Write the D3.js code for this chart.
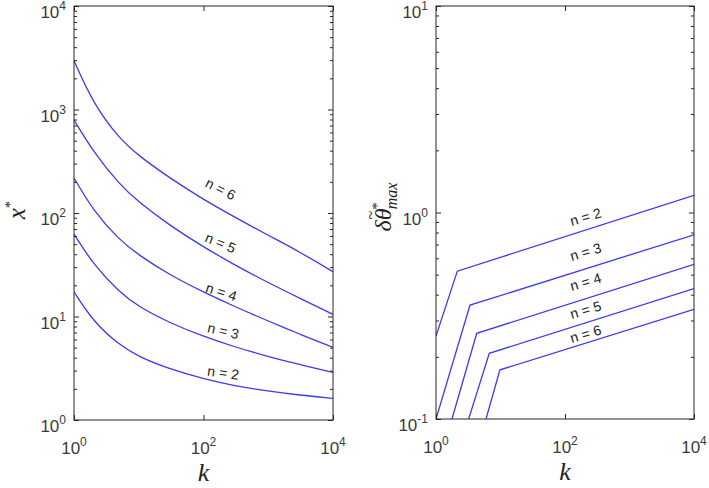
<!DOCTYPE html>
<html lang="en">
<head>
    <meta charset="UTF-8">
    <script src="https://d3js.org/d3.v7.min.js"></script>
    <title>x* and delta theta max versus k</title>
    <style>
        body { margin: 0; background: #fff; }
    </style>
</head>
<body>
<script>
    // ---- data ----
    // left panel: x* against k, one array per n
    const kLeft = [1, 2, 5, 10, 30, 100, 300, 1000, 3000, 10000];
    const xStarN2 = [17.3, 8.87, 5.31, 4.08, 3.10, 2.50, 2.14, 1.90, 1.74, 1.62];
    const xStarN3 = [62.7, 31.6, 17.2, 12.4, 8.67, 6.41, 5.09, 4.10, 3.44, 2.88];
    const xStarN4 = [218, 104.5, 55.0, 39.2, 25.2, 17.2, 12.5, 9.04, 6.79, 5.02];
    const xStarN5 = [792, 388, 190, 127, 75.9, 46.9, 31.6, 21.2, 15.1, 10.5];
    const xStarN6 = [2958, 1130, 524, 357, 218, 135, 91.6, 60.8, 42.4, 27.1];

    // right panel: delta theta max against k (start, corner, end)
    const kRightN2 = [1, 2.14, 10000];
    const thetaN2 = [0.252, 0.52, 1.21];
    const kRightN3 = [1, 3.37, 10000];
    const thetaN3 = [0.1, 0.356, 0.78];
    const kRightN4 = [1.77, 4.28, 10000];
    const thetaN4 = [0.1, 0.26, 0.561];
    const kRightN5 = [3.21, 6.7, 10000];
    const thetaN5 = [0.1, 0.208, 0.428];
    const kRightN6 = [5.96, 9.8, 10000];
    const thetaN6 = [0.1, 0.173, 0.34];

    const curveNames = ["n = 2", "n = 3", "n = 4", "n = 5", "n = 6"];
    const xTicks = [1, 100, 10000];
    const leftYTicks = [1, 10, 100, 1000, 10000];
    const rightYTicks = [0.1, 1, 10];

    const W = 709, H = 488;
    const axisColor = "#262626";
    const lineColor = "#3a3af2";
    const serif = "'Liberation Serif', 'DejaVu Serif', serif";

    const svg = d3.select("body").append("svg")
        .attr("width", W)
        .attr("height", H)
        .style("font-family", "'Liberation Sans', Arial, sans-serif");

    const minorTicks = (lo, hi) => {
        const out = [];
        for (let d = lo; d < hi; d *= 10) {
            for (let m = 2; m <= 9; m++) out.push(d * m);
        }
        return out;
    };

    const supLabel = (sel, base, exp) => {
        sel.append("tspan").text(base);
        sel.append("tspan").attr("dy", -8).style("font-size", "12px").text(exp);
    };

    const drawPanel = (cfg) => {
        const g = svg.append("g")
            .attr("transform", "translate(" + cfg.left + "," + cfg.top + ")");
        const w = cfg.width, h = cfg.height;

        const x = d3.scaleLog().domain([1, 10000]).range([0, w]);
        const y = d3.scaleLog().domain(cfg.yDomain).range([h, 0]);

        // clip
        g.append("clipPath").attr("id", cfg.id + "-clip")
            .append("rect").attr("width", w).attr("height", h);

        // lines
        const line = d3.line()
            .x(d => x(d[0]))
            .y(d => y(d[1]))
            .curve(cfg.smooth ? d3.curveBasis : d3.curveLinear);

        g.append("g").attr("clip-path", "url(#" + cfg.id + "-clip)")
            .selectAll("path")
            .data(cfg.series)
            .enter().append("path")
            .attr("fill", "none")
            .attr("stroke", lineColor)
            .attr("stroke-width", 1.3)
            .attr("d", s => line(s.k.map((k, i) => [k, s.v[i]])));

        // ticks, pointing inside, on all four sides
        const ticks = (axis, tx, ty, values, size) => {
            const a = g.append("g")
                .attr("transform", "translate(" + tx + "," + ty + ")")
                .call(axis.tickValues(values).tickSize(-size).tickFormat(""));
            a.select(".domain").remove();
            a.selectAll("line").attr("stroke", axisColor);
        };
        ticks(d3.axisBottom(x), 0, h, xTicks, 5);
        ticks(d3.axisTop(x), 0, 0, xTicks, 5);
        const yMinor = minorTicks(cfg.yDomain[0], cfg.yDomain[1]);
        ticks(d3.axisLeft(y), 0, 0, cfg.yTicks, 5);
        ticks(d3.axisLeft(y), 0, 0, yMinor, 3);
        ticks(d3.axisRight(y), w, 0, cfg.yTicks, 5);
        ticks(d3.axisRight(y), w, 0, yMinor, 3);

        // box
        g.append("rect")
            .attr("width", w).attr("height", h)
            .attr("fill", "none")
            .attr("stroke", axisColor)
            .attr("stroke-width", 1);

        // tick labels
        xTicks.forEach(v => {
            g.append("text")
                .attr("x", x(v))
                .attr("y", h + 34)
                .attr("text-anchor", "middle")
                .attr("fill", "#3a3a3a")
                .style("font-size", "17px")
                .call(supLabel, "10", Math.round(Math.log10(v)));
        });
        cfg.yTicks.forEach(v => {
            g.append("text")
                .attr("x", -8)
                .attr("y", y(v) + 12)
                .attr("text-anchor", "end")
                .attr("fill", "#3a3a3a")
                .style("font-size", "17px")
                .call(supLabel, "10", Math.round(Math.log10(v)));
        });

        // x label
        g.append("text")
            .attr("x", w / 2)
            .attr("y", h + 61)
            .attr("text-anchor", "middle")
            .style("font-family", serif)
            .style("font-style", "italic")
            .style("font-size", "26px")
            .attr("fill", "#222")
            .text("k");

        // curve labels
        cfg.labels.forEach((lb, i) => {
            g.append("text")
                .attr("transform", "translate(" + (lb.x - cfg.left) + "," + (lb.y - cfg.top) + ") rotate(" + lb.r + ")")
                .attr("text-anchor", "middle")
                .attr("dominant-baseline", "middle")
                .attr("fill", "#222")
                .style("font-size", "14px")
                .text(curveNames[i]);
        });
        return g;
    };

    // left panel
    drawPanel({
        id: "left", left: 74, top: 6, width: 259, height: 414,
        yDomain: [1, 10000], yTicks: leftYTicks, smooth: true,
        series: [
            {k: kLeft, v: xStarN2},
            {k: kLeft, v: xStarN3},
            {k: kLeft, v: xStarN4},
            {k: kLeft, v: xStarN5},
            {k: kLeft, v: xStarN6}
        ],
        labels: [
            {x: 223, y: 374, r: 8},
            {x: 223, y: 332, r: 13},
            {x: 221, y: 293, r: 18},
            {x: 220, y: 244, r: 23},
            {x: 220, y: 190, r: 27}
        ]
    });

    // right panel
    drawPanel({
        id: "right", left: 436, top: 6, width: 258, height: 413,
        yDomain: [0.1, 10], yTicks: rightYTicks, smooth: false,
        series: [
            {k: kRightN2, v: thetaN2},
            {k: kRightN3, v: thetaN3},
            {k: kRightN4, v: thetaN4},
            {k: kRightN5, v: thetaN5},
            {k: kRightN6, v: thetaN6}
        ],
        labels: [
            {x: 586, y: 218, r: -16},
            {x: 586, y: 253, r: -16},
            {x: 586, y: 283, r: -16},
            {x: 586, y: 311, r: -16},
            {x: 586, y: 335, r: -16}
        ]
    });

    // y labels
    const yl = svg.append("text")
        .attr("transform", "translate(25,210) rotate(-90)")
        .attr("text-anchor", "middle")
        .style("font-family", serif)
        .style("font-style", "italic")
        .style("font-size", "25px")
        .attr("fill", "#222");
    yl.append("tspan").text("x");
    yl.append("tspan").attr("dy", -10).style("font-size", "15px").style("font-style", "normal").text("*");

    const yr = svg.append("text")
        .attr("transform", "translate(391,207) rotate(-90)")
        .attr("text-anchor", "middle")
        .style("font-family", serif)
        .style("font-style", "italic")
        .style("font-size", "24px")
        .attr("fill", "#222");
    yr.append("tspan").text("δθ");
    yr.append("tspan").attr("dx", -11).attr("dy", -15)
        .style("font-size", "16px").style("font-style", "normal").text("~");
    yr.append("tspan").attr("dx", 1).attr("dy", 6)
        .style("font-size", "15px").style("font-style", "normal").text("*");
    yr.append("tspan").attr("dx", -7).attr("dy", 15).style("font-size", "16px").text("max");
</script>
</body>
</html>
